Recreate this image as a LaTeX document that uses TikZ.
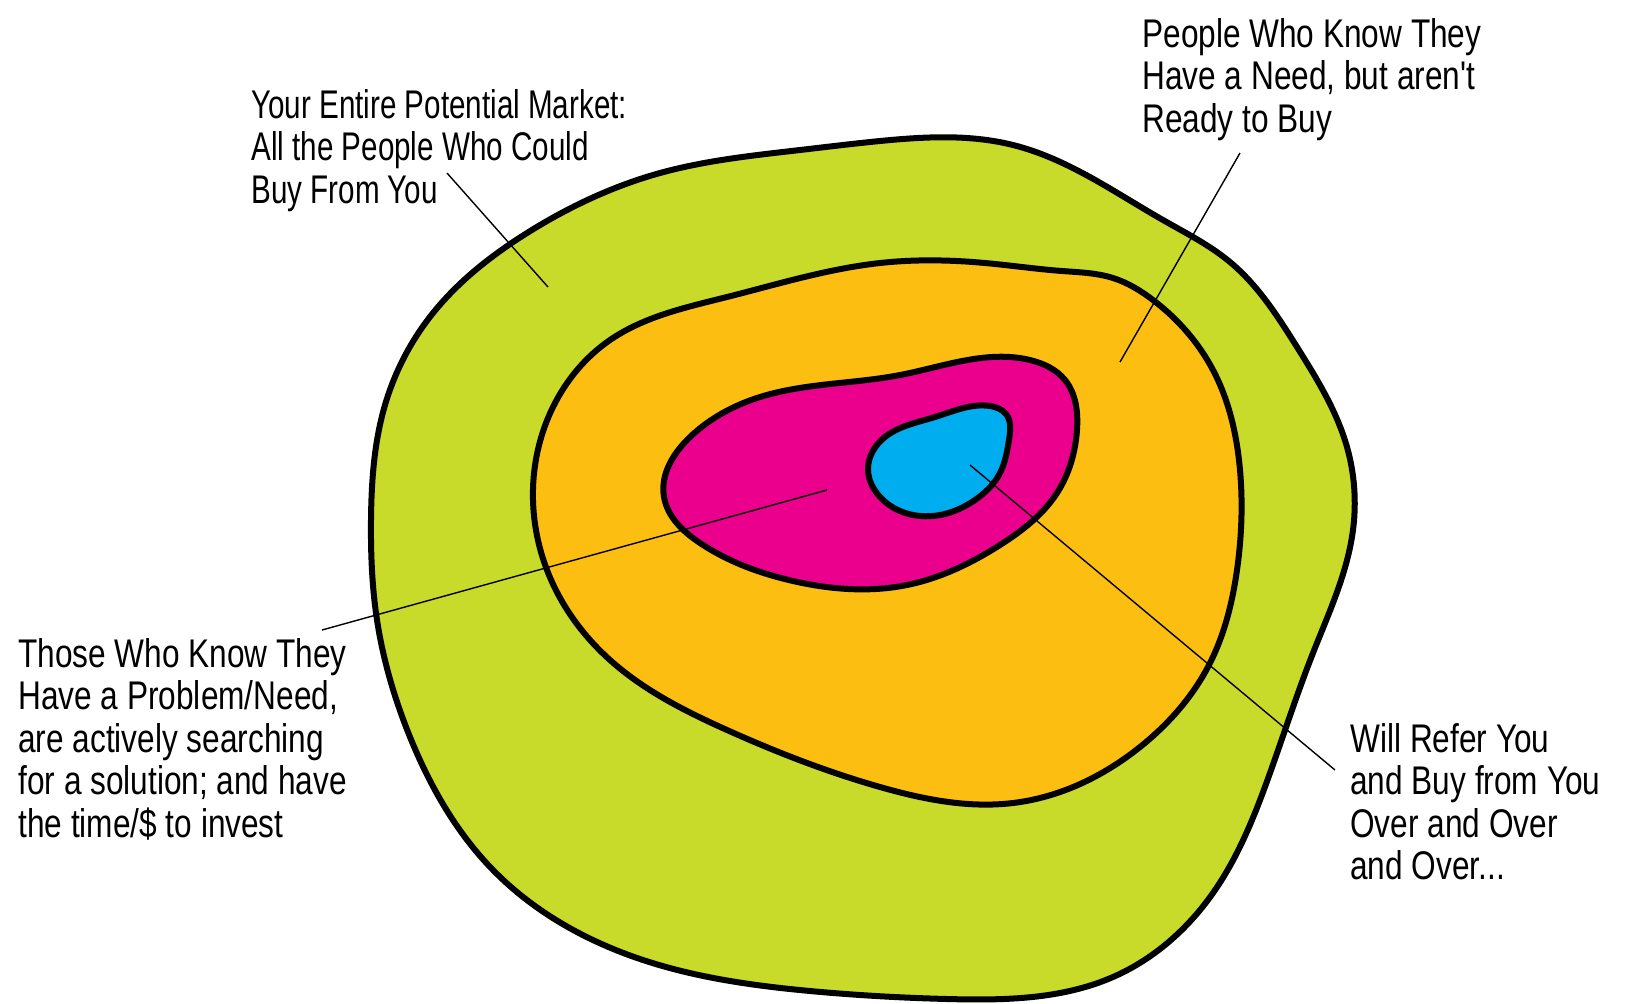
\documentclass[tikz,border=0pt]{standalone}
\usepackage{fontspec}
\usetikzlibrary{hobby}
\newfontfamily\hand[FakeStretch=0.79]{Liberation Sans}
\newfontfamily\handn[FakeStretch=0.74]{Liberation Sans}
\definecolor{lime}{RGB}{200,218,42}
\definecolor{amber}{RGB}{253,190,18}
\definecolor{mag}{RGB}{234,0,140}
\definecolor{sky}{RGB}{0,174,239}
\begin{document}
\begin{tikzpicture}[x=0.5pt,y=-0.5pt,
  blob/.style={line width=3pt,line join=round,draw=black,use Hobby shortcut,closed=true},
  conn/.style={line width=0.7pt,draw=black},
  lab/.style={anchor=north west,inner sep=0pt,align=left,font=\hand\fontsize{20}{21.25}\selectfont},
  labn/.style={lab,font=\handn\fontsize{20}{21.25}\selectfont}]
\useasboundingbox (0,0) rectangle (1635,1003);
\fill[white] (0,0) rectangle (1635,1003);
% outer market
\draw[blob,fill=lime] (371,520) .. (385,405) .. (433,313) .. (527,233) .. (660,173)
 .. (800,150) .. (880,141) .. (1013,145) .. (1163,220) .. (1230,262)
 .. (1297,347) .. (1347,447) .. (1353,530) .. (1313,653) .. (1270,773) .. (1213,893)
 .. (1113,977) .. (947,999) .. (810,991) .. (643,960) .. (493,870) .. (410,737)
 .. (377,620);
% aware, not ready
\draw[blob,fill=amber] (533,500) .. (553,407) .. (610,340) .. (727,297) .. (880,263)
 .. (985,263) .. (1062,271) .. (1113,278) .. (1153,300) .. (1213,370) .. (1240,470) .. (1237,570)
 .. (1210,663) .. (1140,747) .. (1013,803) .. (880,787) .. (727,730) .. (610,660)
 .. (547,570);
% actively searching
\draw[blob,fill=mag] (664,497) .. (690,437) .. (760,397) .. (900,375) .. (1030,360)
 .. (1065,380) .. (1077,430) .. (1057,493) .. (1000,545) .. (907,585) .. (793,581)
 .. (700,543);
% loyal
\draw[blob,fill=sky] (868,470) .. (885,437) .. (935,417) .. (990,406) .. (1006,414)
 .. (1009,440) .. (1000,473) .. (975,500) .. (940,515) .. (900,511) .. (876,492);
% labels
\node[labn] (market) at (251,89) {Your Entire Potential Market:\\All the People Who Could\\Buy From You};
\node[lab] (aware) at (1142,18) {People Who Know They\\Have a Need, but aren't\\Ready to Buy};
\node[lab] (search) at (18,638) {Those Who Know They\\Have a Problem/Need,\\are actively searching\\for a solution; and have\\the time/\$ to invest};
\node[lab] (loyal) at (1350,723) {Will Refer You\\and Buy from You\\Over and Over\\and Over...};
% connector ends
\coordinate (m1) at (447,173); \coordinate (m2) at (548,287);
\coordinate (a1) at (1240,153); \coordinate (a2) at (1120,362);
\coordinate (s1) at (322,630); \coordinate (s2) at (827,490);
\coordinate (l1) at (970,465); \coordinate (l2) at (1335,770);
\draw[conn] (m1) -- (m2);
\draw[conn] (a1) -- (a2);
\draw[conn] (s1) -- (s2);
\draw[conn] (l1) -- (l2);
\end{tikzpicture}
\end{document}
